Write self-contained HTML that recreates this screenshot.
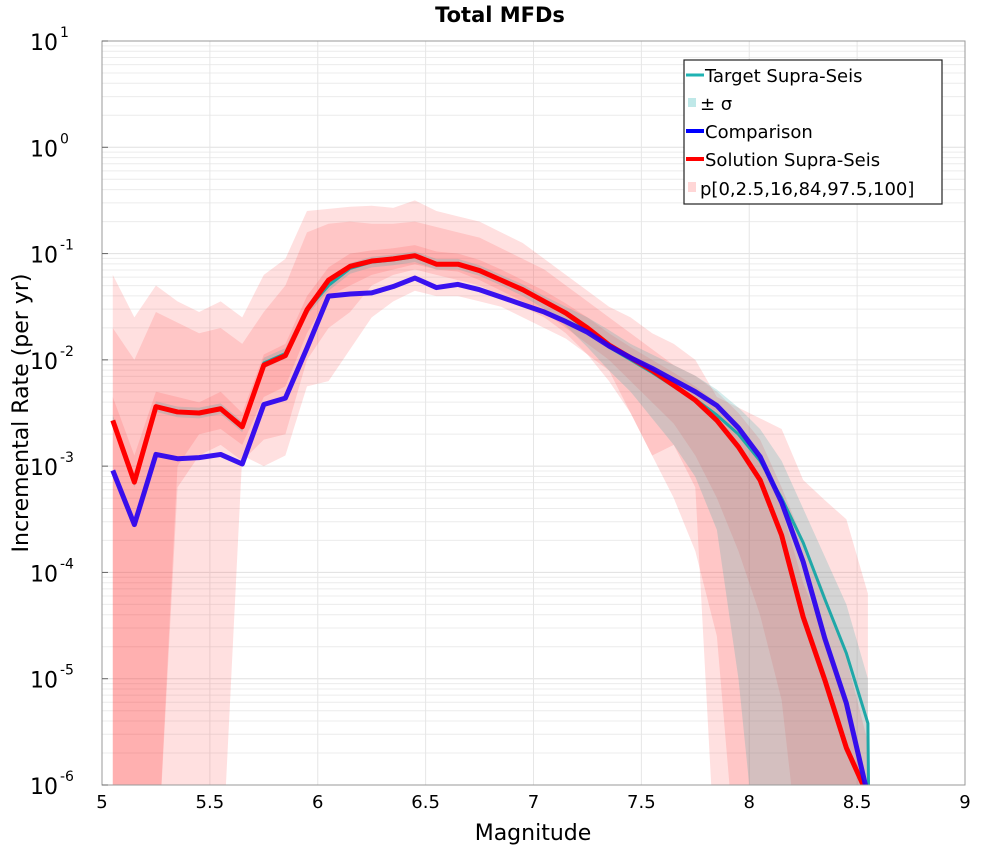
<!DOCTYPE html>
<html><head><meta charset="utf-8"><style>
body{margin:0;background:#fff;font-family:"Liberation Sans",sans-serif}
svg text{font-family:"DejaVu Sans","Liberation Sans",sans-serif}
</style></head><body>
<svg id="c" width="1000" height="850" viewBox="0 0 1000 850">
<defs><clipPath id="clip"><rect x="102" y="41" width="863" height="744"/></clipPath></defs>
<rect width="1000" height="850" fill="#fff"/>
<g id="grid"></g>
<g id="bands" clip-path="url(#clip)"></g>
<g id="lines" clip-path="url(#clip)"></g>
<rect x="102" y="41" width="863" height="744" fill="none" stroke="#999" stroke-width="1"/>
<g id="axes"></g>
<text x="500" y="22" text-anchor="middle" font-size="21" font-weight="bold">Total MFDs</text>
<text x="533" y="840" text-anchor="middle" font-size="22">Magnitude</text>
<text transform="translate(28,413) rotate(-90)" text-anchor="middle" font-size="22">Incremental Rate (per yr)</text>
<g>
<rect x="684" y="60" width="258" height="144" fill="#fff" stroke="#222" stroke-width="1.2"/>
<g><line x1="686" y1="75" x2="704" y2="75" stroke="#1fb3b3" stroke-width="3"/><text x="705" y="82" font-size="18">Target Supra-Seis</text></g>
<g><rect x="688" y="98" width="8" height="9" fill="#bfe8e8"/><text x="700" y="110" font-size="18">± σ</text></g>
<g><line x1="686" y1="131" x2="704" y2="131" stroke="#0000ff" stroke-width="4"/><text x="705" y="138" font-size="18">Comparison</text></g>
<g><line x1="686" y1="159" x2="704" y2="159" stroke="#ff0000" stroke-width="4"/><text x="705" y="166" font-size="18">Solution Supra-Seis</text></g>
<g><rect x="688" y="182" width="8" height="10" fill="#ffd6d6"/><text x="700" y="195" font-size="18">p[0,2.5,16,84,97.5,100]</text></g>
</g>
</svg>
<script>
const mags=[5.05,5.15,5.25,5.35,5.45,5.55,5.65,5.75,5.85,5.95,6.05,6.15,6.25,6.35,6.45,6.55,6.65,6.75,6.85,6.95,7.05,7.15,7.25,7.35,7.45,7.55,7.65,7.75,7.85,7.95,8.05,8.15,8.25,8.35,8.45,8.55];
const solution=[-2.57,-3.15,-2.44,-2.49,-2.50,-2.46,-2.63,-2.05,-1.96,-1.53,-1.25,-1.12,-1.07,-1.05,-1.02,-1.10,-1.10,-1.16,-1.25,-1.34,-1.45,-1.56,-1.70,-1.86,-1.98,-2.10,-2.24,-2.38,-2.57,-2.82,-3.13,-3.65,-4.42,-5.01,-5.65,-6.1];
const comparison=[-3.04,-3.55,-2.89,-2.93,-2.92,-2.89,-2.98,-2.42,-2.36,-1.89,-1.40,-1.38,-1.37,-1.31,-1.23,-1.32,-1.29,-1.34,-1.41,-1.48,-1.55,-1.64,-1.74,-1.87,-1.98,-2.08,-2.19,-2.30,-2.43,-2.64,-2.91,-3.34,-3.90,-4.62,-5.23,-6.1];
const target=[-2.57,-3.15,-2.44,-2.49,-2.50,-2.46,-2.63,-2.03,-1.94,-1.53,-1.30,-1.14,-1.08,-1.06,-1.03,-1.10,-1.10,-1.16,-1.25,-1.34,-1.45,-1.57,-1.72,-1.88,-2.00,-2.12,-2.25,-2.37,-2.52,-2.70,-2.95,-3.30,-3.72,-4.25,-4.76,-5.42];
const sigmaHi=[-2.52,-3.1,-2.39,-2.44,-2.45,-2.41,-2.58,-1.98,-1.89,-1.48,-1.25,-1.09,-1.03,-1.01,-0.98,-1.05,-1.05,-1.11,-1.2,-1.29,-1.4,-1.5,-1.6,-1.72,-1.85,-1.95,-2.05,-2.15,-2.28,-2.45,-2.65,-2.95,-3.4,-3.85,-4.3,-5.0];
const sigmaLo=[-2.62,-3.2,-2.49,-2.54,-2.55,-2.51,-2.68,-2.08,-1.99,-1.58,-1.35,-1.19,-1.13,-1.11,-1.08,-1.15,-1.15,-1.21,-1.3,-1.4,-1.52,-1.68,-1.88,-2.1,-2.3,-2.55,-2.8,-3.1,-3.6,-5.0,-7,-7,-7,-7,-7,-7];
const p100=[-1.2,-1.6,-1.3,-1.45,-1.55,-1.45,-1.6,-1.2,-1.05,-0.6,-0.58,-0.56,-0.55,-0.57,-0.5,-0.6,-0.65,-0.7,-0.8,-0.9,-1.05,-1.2,-1.35,-1.5,-1.6,-1.75,-1.85,-2.0,-2.35,-2.45,-2.55,-2.65,-3.13,-3.32,-3.5,-4.2];
const p975=[-1.7,-2.0,-1.55,-1.65,-1.75,-1.7,-1.85,-1.55,-1.3,-0.8,-0.72,-0.7,-0.72,-0.72,-0.7,-0.75,-0.8,-0.85,-0.95,-1.05,-1.15,-1.3,-1.45,-1.6,-1.75,-1.9,-2.05,-2.15,-2.3,-2.5,-2.75,-3.2,-3.7,-4.2,-4.8,-5.6];
const p84=[-2.35,-2.9,-2.3,-2.35,-2.4,-2.3,-2.5,-1.95,-1.85,-1.4,-1.13,-1.0,-0.97,-0.95,-0.92,-0.98,-1.0,-1.06,-1.15,-1.25,-1.35,-1.47,-1.6,-1.75,-1.88,-2.0,-2.12,-2.25,-2.4,-2.6,-2.9,-3.4,-4.1,-4.6,-5.2,-6.1];
const p16=[-7,-7,-7,-3.0,-2.7,-2.65,-2.8,-2.35,-2.25,-1.75,-1.4,-1.3,-1.2,-1.15,-1.1,-1.15,-1.17,-1.25,-1.35,-1.45,-1.55,-1.7,-1.85,-2.0,-2.2,-2.4,-2.6,-2.9,-3.3,-3.8,-4.4,-5.2,-7,-7,-7,-7];
const p25=[-7,-7,-7,-3.2,-2.9,-2.8,-2.95,-2.75,-2.7,-2.0,-1.7,-1.55,-1.3,-1.2,-1.15,-1.2,-1.25,-1.3,-1.4,-1.5,-1.6,-1.75,-1.95,-2.2,-2.5,-2.9,-3.3,-3.8,-4.6,-7,-7,-7,-7,-7,-7,-7];
const p0=[-7,-7,-7,-7,-7,-7,-2.9,-3.0,-2.9,-2.25,-2.2,-1.9,-1.6,-1.45,-1.35,-1.4,-1.4,-1.45,-1.5,-1.6,-1.7,-1.8,-1.95,-2.1,-2.5,-2.9,-2.8,-3.2,-7,-7,-7,-7,-7,-7,-7,-7];
const xTicks=[5,5.5,6,6.5,7,7.5,8,8.5,9];
const xTickLabels=["5","5.5","6","6.5","7","7.5","8","8.5","9"];
const yExps=[1,0,-1,-2,-3,-4,-5,-6];

const NS="http://www.w3.org/2000/svg";
const X=m=>102+(m-5)*(863/4);
const Y=v=>41+(1-v)*(744/7);
function mk(tag,attrs,parent){const e=document.createElementNS(NS,tag);for(const k in attrs)e.setAttribute(k,attrs[k]);parent.appendChild(e);return e;}
const grid=document.getElementById('grid'),axes=document.getElementById('axes'),bands=document.getElementById('bands'),lines=document.getElementById('lines');
for(let e=-6;e<1;e++)for(let k=2;k<=9;k++){const y=Y(e+Math.log10(k));
 const l=mk('line',{x1:102,x2:965,y1:y,y2:y,stroke:'#ececec','stroke-width':1},grid);
 
 }
yExps.forEach(e=>{const y=Y(e);
 const l=mk('line',{x1:102,x2:965,y1:y,y2:y,stroke:'#e0e0e0','stroke-width':1},grid);
 
 
 const t=mk('text',{x:58,y:y+9,'font-size':22,'text-anchor':'end'},axes);
 
 
 t.textContent='10';
 const s=mk('text',{x:60,y:y-4,'font-size':14},axes);
 
 
 s.textContent=String(e).replace('-','-');
 const tk=mk('line',{x1:102,x2:108,y1:y,y2:y,stroke:'#666'},axes);
 
 });
xTicks.forEach((m,i)=>{const x=X(m);
 const l=mk('line',{x1:x,x2:x,y1:41,y2:785,stroke:'#e6e6e6','stroke-width':1},grid);
 
 
 const t=mk('text',{x:x,y:808,'font-size':18,'text-anchor':'middle'},axes);
 
 
 t.textContent=xTickLabels[i];});
function band(lo,hi,fill,name){
 let d='M'+mags.map((m,i)=>X(m)+','+Y(hi[i])).join(' L');
 for(let i=mags.length-1;i>=0;i--)d+=' L'+X(mags[i])+','+Y(lo[i]);
 const p=mk('path',{d:d+'Z',fill:fill},bands);
 
 }
band(p0,p100,'rgba(255,60,60,0.16)','band-p0-p100');
band(p25,p975,'rgba(255,60,60,0.16)','band-p2.5-p97.5');
band(p16,p84,'rgba(255,60,60,0.16)','band-p16-p84');
band(sigmaLo,sigmaHi,'rgba(60,170,170,0.22)','band-sigma');
function line(vals,color,w,name,extra){
 let pts=mags.map((m,i)=>X(m)+','+Y(vals[i]));
 if(extra)pts=pts.concat(extra);
 const p=mk('polyline',{points:pts.join(' '),fill:'none',stroke:color,'stroke-width':w,'stroke-linejoin':'round'},lines);
 
 }
line(target,'#1fa8a8',3,'target-line',[X(mags[35]+0.005)+','+Y(-6.5)]);
line(solution,'#ff0000',5,'solution-line');
line(comparison,'rgba(40,0,240,0.92)',5,'comparison-line');
</script>
</body></html>
